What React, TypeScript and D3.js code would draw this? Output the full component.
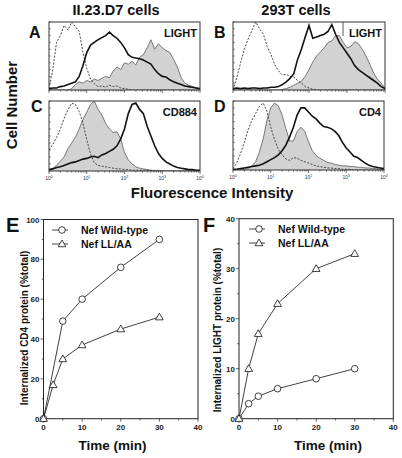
import React from "react";
import * as d3 from "d3";

// ---------- Flow cytometry histograms (41 bins over 4 log decades, normalised heights) ----------
const A_control = [0.02,0.3,0.7,0.8,0.95,0.88,1.0,0.93,0.86,0.55, 0.32,0.16,0.09,0.05,0.06,0.04,0.07,0.05,0.06,0.03, 0.02,0.01,0,0,0,0,0,0,0,0, 0,0,0,0,0,0,0,0,0,0,0];
const A_gray = [0,0,0,0,0,0,0.02,0.08,0.12,0.1, 0.14,0.12,0.16,0.14,0.17,0.2,0.18,0.28,0.34,0.3, 0.4,0.38,0.42,0.37,0.48,0.52,0.62,0.74,0.6,0.68, 0.62,0.58,0.55,0.45,0.34,0.18,0.1,0.07,0.05,0.03,0.02];
const A_black = [0.02,0.03,0.03,0.05,0.06,0.08,0.1,0.12,0.2,0.36, 0.55,0.66,0.7,0.74,0.77,0.8,0.85,0.8,0.76,0.7, 0.62,0.52,0.48,0.47,0.46,0.44,0.41,0.38,0.3,0.24, 0.2,0.19,0.15,0.12,0.1,0.08,0.06,0.05,0.04,0.03,0.02];

const B_control = [0,0.18,0.4,0.6,0.75,0.88,1.0,0.9,0.82,0.64, 0.52,0.37,0.28,0.22,0.23,0.2,0.19,0.14,0.1,0.05, 0.03,0.01,0,0,0,0,0,0,0,0, 0,0,0,0,0,0,0,0,0,0,0];
const B_gray = [0,0,0,0,0,0,0,0,0,0, 0,0,0,0.01,0.02,0.04,0.07,0.1,0.13,0.2, 0.3,0.41,0.5,0.56,0.62,0.7,0.72,0.8,0.8,0.7, 0.62,0.64,0.71,0.68,0.6,0.5,0.38,0.25,0.16,0.1,0.03];
const B_black = [0.02,0.03,0.02,0.03,0.02,0.03,0.03,0.02,0.03,0.03, 0.04,0.04,0.05,0.08,0.12,0.17,0.24,0.45,0.6,0.78, 0.95,0.76,0.78,0.8,0.82,0.86,0.96,0.82,0.7,0.62, 0.54,0.46,0.36,0.3,0.26,0.22,0.18,0.14,0.1,0.05,0.02];

const C_control = [0.3,0.38,0.48,0.6,0.75,0.87,0.97,0.95,0.85,0.68, 0.45,0.24,0.12,0.08,0.07,0.06,0.05,0.04,0.03,0.03, 0.02,0.02,0.01,0.01,0.01,0.01,0.01,0.01,0.01,0.01, 0,0,0,0,0,0,0,0,0,0,0];
const C_gray = [0.02,0.04,0.08,0.14,0.2,0.32,0.4,0.48,0.6,0.74, 0.84,0.95,1.0,0.88,0.8,0.68,0.6,0.55,0.56,0.46, 0.26,0.16,0.1,0.06,0.04,0.03,0.02,0.01,0,0, 0,0,0,0,0,0,0,0,0,0,0];
const C_black = [0.02,0.03,0.05,0.06,0.08,0.1,0.12,0.13,0.15,0.17, 0.18,0.2,0.21,0.19,0.23,0.25,0.28,0.31,0.36,0.46, 0.6,0.82,0.95,0.97,0.88,0.82,0.64,0.5,0.36,0.25, 0.18,0.13,0.1,0.07,0.05,0.04,0.03,0.02,0.02,0.01,0.01];

const D_control = [0.02,0.1,0.24,0.4,0.58,0.72,0.82,0.92,0.97,0.85, 0.62,0.44,0.3,0.22,0.16,0.14,0.18,0.17,0.14,0.12, 0.1,0.08,0.06,0.05,0.04,0.03,0.03,0.02,0.02,0.01, 0.01,0.01,0,0,0,0,0,0,0,0,0];
const D_gray = [0,0,0,0.01,0.02,0.06,0.12,0.26,0.45,0.72, 0.9,0.97,0.93,0.8,0.6,0.42,0.42,0.56,0.62,0.56, 0.41,0.28,0.21,0.17,0.14,0.11,0.1,0.08,0.07,0.06, 0.06,0.05,0.05,0.04,0.04,0.03,0.03,0.02,0.02,0.01,0.01];
const D_black = [0.01,0.01,0.02,0.03,0.04,0.05,0.06,0.07,0.09,0.12, 0.15,0.18,0.22,0.28,0.36,0.48,0.62,0.8,0.9,0.9, 0.84,0.78,0.74,0.68,0.63,0.62,0.6,0.56,0.5,0.4, 0.32,0.26,0.2,0.18,0.14,0.1,0.07,0.05,0.04,0.03,0.02];

const DECADE_LABELS = ["0", "1", "2", "3", "4"];

// ---------- Internalization time courses ----------
const E_time_wt = [0, 5, 10, 20, 30];
const E_wt = [0, 49, 60, 76, 90];
const E_time_ll = [0, 2.5, 5, 10, 20, 30];
const E_ll = [0, 17, 30, 37, 45, 51];

const F_time = [0, 2.5, 5, 10, 20, 30];
const F_wt = [0, 3, 4.5, 6, 8, 10];
const F_ll = [0, 10, 17, 23, 30, 33];

const X_TICKS = [0, 10, 20, 30, 40];
const E_Y_TICKS = [0, 20, 40, 60, 80, 100];
const F_Y_TICKS = [0, 10, 20, 30, 40];
const LEGEND = ["Nef Wild-type", "Nef LL/AA"];

const FONT = "'Liberation Sans', Arial, Helvetica, sans-serif";

type HistProps = {
  id: string;
  x0: number; x1: number; y0: number; y1: number;
  control: number[]; gray: number[]; black: number[];
  label: string; tickLabels: boolean; labelBox?: boolean;
};

function Histogram(p: HistProps) {
  const x = d3.scaleLog().domain([1, 1e4]).range([p.x0, p.x1]);
  const y = d3.scaleLinear().domain([0, 1]).range([p.y1, p.y0]);
  const pts = (arr: number[]) => arr.map((v, i) => [Math.pow(10, (i * 4) / (arr.length - 1)), v] as [number, number]);
  const line = d3.line<[number, number]>().x(d => x(d[0])).y(d => y(d[1]));
  const area = d3.area<[number, number]>().x(d => x(d[0])).y0(y(0)).y1(d => y(d[1]));
  const ticks = x.ticks();
  const yt = y.ticks(10);
  return (
    <g>
      <defs>
        <clipPath id={"clip" + p.id}>
          <rect x={p.x0} y={p.y0} width={p.x1 - p.x0} height={p.y1 - p.y0} />
        </clipPath>
      </defs>
      <g clipPath={`url(#clip${p.id})`}>
        <path d={area(pts(p.gray)) || ""} fill="#d2d2d2" stroke="none" />
        <path d={line(pts(p.gray)) || ""} fill="none" stroke="#6a6a6a" strokeWidth={0.9} />
        <path d={line(pts(p.control)) || ""} fill="none" stroke="#333" strokeWidth={0.9} strokeDasharray="2,1.5" />
        <path d={line(pts(p.black)) || ""} fill="none" stroke="#111" strokeWidth={1.6} />
      </g>
      {p.labelBox && (
        <g>
          <rect x={p.x1 - 42} y={p.y0 + 0.5} width={41.5} height={16} fill="#fff" />
          <line x1={p.x1 - 42} x2={p.x1 - 42} y1={p.y0} y2={p.y0 + 14} stroke="#444" strokeWidth={0.9} />
        </g>
      )}
      <rect x={p.x0} y={p.y0} width={p.x1 - p.x0} height={p.y1 - p.y0} fill="none" stroke="#333" strokeWidth={1} />
      {ticks.map((t, i) => {
        const major = Math.abs(Math.log10(t) - Math.round(Math.log10(t))) < 1e-6;
        return (
          <line key={i} x1={x(t)} x2={x(t)} y1={p.y1} y2={p.y1 + (major ? 3 : 1.6)} stroke="#333" strokeWidth={0.7} />
        );
      })}
      {yt.map((t, i) => (
        <line key={"y" + i} x1={p.x0} x2={p.x0 + 1.8} y1={y(t)} y2={y(t)} stroke="#333" strokeWidth={0.6} />
      ))}
      {p.tickLabels &&
        DECADE_LABELS.map((s, i) => (
          <text key={"l" + i} x={x(Math.pow(10, i))} y={p.y1 + 8.5} fontSize={5} fontFamily={FONT} textAnchor="middle" fill="#333">
            10<tspan fontSize={3.6} dy={-2}>{s}</tspan>
          </text>
        ))}
      <text x={p.x1 - 3} y={p.y0 + 15} fontSize={11} fontWeight="bold" fontFamily={FONT} textAnchor="end" fill="#111">
        {p.label}
      </text>
    </g>
  );
}

type Series = { t: number[]; v: number[]; marker: "circle" | "triangle" };
type TCProps = {
  x0: number; x1: number; y0: number; y1: number;
  yMax: number; yTicks: number[]; series: Series[];
  yLabel: string; yLabelX: number; yLabelY: number; timeX: number;
  legendX: number; legendY: number;
};

function Marker({ kind, cx, cy }: { kind: string; cx: number; cy: number }) {
  if (kind === "circle") return <circle cx={cx} cy={cy} r={3.3} fill="#fff" stroke="#111" strokeWidth={0.8} />;
  const tri = d3.symbol().type(d3.symbolTriangle).size(26)();
  return <path d={tri || ""} transform={`translate(${cx},${cy + 0.5})`} fill="#fff" stroke="#111" strokeWidth={0.8} />;
}

function TimeCourse(p: TCProps) {
  const x = d3.scaleLinear().domain([0, 40]).range([p.x0, p.x1]);
  const y = d3.scaleLinear().domain([0, p.yMax]).range([p.y1, p.y0]);
  const line = d3.line<[number, number]>().x(d => x(d[0])).y(d => y(d[1]));
  const step = p.yTicks[1] - p.yTicks[0];
  const minorY = d3.range(0, p.yMax + 0.001, step / 2);
  const minorX = d3.range(0, 40.001, 5);
  return (
    <g fontFamily={FONT}>
      <rect x={p.x0} y={p.y0} width={p.x1 - p.x0} height={p.y1 - p.y0} fill="none" stroke="#222" strokeWidth={1} />
      {minorX.map((t, i) => (
        <line key={"mx" + i} x1={x(t)} x2={x(t)} y1={p.y1} y2={p.y1 + (t % 10 === 0 ? 3 : 1.8)} stroke="#222" strokeWidth={0.7} />
      ))}
      {minorY.map((t, i) => (
        <line key={"my" + i} x1={p.x0} x2={p.x0 - (Math.abs(t % step) < 1e-6 ? 3 : 1.8)} y1={y(t)} y2={y(t)} stroke="#222" strokeWidth={0.7} />
      ))}
      {X_TICKS.map(t => (
        <text key={"xt" + t} x={x(t)} y={p.y1 + 11.5} fontSize={8} fontWeight="bold" textAnchor="middle" fill="#222">{t}</text>
      ))}
      {p.yTicks.map(t => (
        <text key={"yt" + t} x={p.x0 - 4} y={y(t) + 3} fontSize={8} fontWeight="bold" textAnchor="end" fill="#222">{t}</text>
      ))}
      {p.series.map((s, si) => {
        const pts = s.t.map((t, i) => [t, s.v[i]] as [number, number]);
        return (
          <g key={"s" + si}>
            <path d={line(pts) || ""} fill="none" stroke="#111" strokeWidth={0.8} />
            {pts.map((d, i) => (
              <Marker key={i} kind={s.marker} cx={x(d[0])} cy={y(d[1])} />
            ))}
          </g>
        );
      })}
      {p.series.map((s, si) => (
        <g key={"lg" + si}>
          <line x1={p.legendX} x2={p.legendX + 16} y1={p.legendY + si * 14} y2={p.legendY + si * 14} stroke="#111" strokeWidth={0.8} />
          <Marker kind={s.marker} cx={p.legendX + 10} cy={p.legendY + si * 14} />
          <text x={p.legendX + 29} y={p.legendY + si * 14 + 3.6} fontSize={10.5} fontWeight="bold" fill="#111">{LEGEND[si]}</text>
        </g>
      ))}
      <text
        transform={`translate(${p.yLabelX},${p.yLabelY}) rotate(-90)`}
        fontSize={10} fontWeight="bold" textAnchor="middle" fill="#111"
      >
        {p.yLabel}
      </text>
      <text x={p.timeX} y={p.y1 + 31} fontSize={13.5} fontWeight="bold" textAnchor="middle" fill="#111">
        Time (min)
      </text>
    </g>
  );
}

export default function App() {
  return (
    <svg width={402} height={458} viewBox="0 0 402 458"
      style={{ position: "absolute", left: 0, top: 0, background: "#fff" }}>
      <rect x={0} y={0} width={402} height={458} fill="#fff" />
      <g fontFamily={FONT} fontWeight="bold" fill="#111">
        <text x={116} y={15} fontSize={14.5} textAnchor="middle">II.23.D7 cells</text>
        <text x={296} y={15} fontSize={14.5} textAnchor="middle">293T cells</text>
        <text transform="translate(17,105) rotate(-90)" fontSize={15} textAnchor="middle">Cell Number</text>
        <text x={212} y={198} fontSize={15} textAnchor="middle">Fluorescence Intensity</text>
        <text x={29} y={38} fontSize={16}>A</text>
        <text x={214} y={38} fontSize={16}>B</text>
        <text x={31} y={112} fontSize={16}>C</text>
        <text x={214} y={112} fontSize={16}>D</text>
        <text x={6} y={232} fontSize={20}>E</text>
        <text x={203} y={232} fontSize={20}>F</text>
      </g>
      <Histogram id="A" x0={49} x1={200} y0={22} y1={90} control={A_control} gray={A_gray} black={A_black} label="LIGHT" tickLabels={false} />
      <Histogram id="B" x0={233} x1={385} y0={22} y1={90} control={B_control} gray={B_gray} black={B_black} label="LIGHT" tickLabels={false} labelBox />
      <Histogram id="C" x0={49} x1={200} y0={101} y1={171} control={C_control} gray={C_gray} black={C_black} label="CD884" tickLabels />
      <Histogram id="D" x0={233} x1={384} y0={101} y1={170} control={D_control} gray={D_gray} black={D_black} label="CD4" tickLabels />
      <TimeCourse
        x0={43.5} x1={198} y0={219.5} y1={418.7} yMax={100} yTicks={E_Y_TICKS}
        series={[{ t: E_time_wt, v: E_wt, marker: "circle" }, { t: E_time_ll, v: E_ll, marker: "triangle" }]}
        yLabel="Internalized CD4 protein (%total)" yLabelX={28} yLabelY={328} timeX={112.5}
        legendX={52} legendY={230}
      />
      <TimeCourse
        x0={239} x1={393.3} y0={218.7} y1={418.7} yMax={40} yTicks={F_Y_TICKS}
        series={[{ t: F_time, v: F_wt, marker: "circle" }, { t: F_time, v: F_ll, marker: "triangle" }]}
        yLabel="Internalized LIGHT protein (%total)" yLabelX={221} yLabelY={330} timeX={328}
        legendX={249} legendY={229}
      />
    </svg>
  );
}
